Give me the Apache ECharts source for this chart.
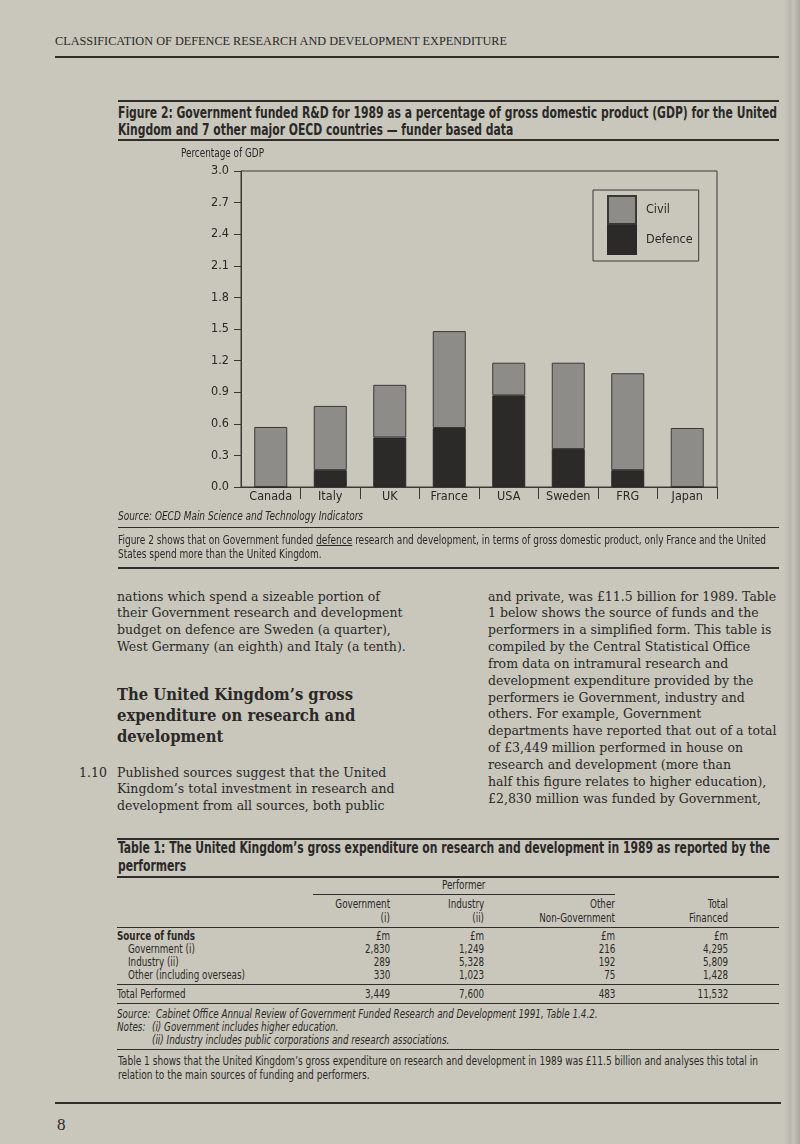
<!DOCTYPE html>
<html><head><meta charset="utf-8">
<script src="https://cdn.jsdelivr.net/npm/echarts@6/dist/echarts.min.js"></script>
<style>
html,body{margin:0;padding:0;}
body{width:800px;height:1144px;position:relative;overflow:hidden;background:#c9c7bc;color:#2a2927;}
.t{position:absolute;white-space:nowrap;transform-origin:0 50%;}
.serif{font-family:"Liberation Serif","DejaVu Serif",serif;}
.dserif{font-family:"DejaVu Serif","Liberation Serif",serif;}
.nar{font-family:"Liberation Sans Narrow","DejaVu Sans Condensed","Liberation Sans",sans-serif;}
.rule{position:absolute;background:#2f2e2b;}
#chart{position:absolute;left:0;top:145px;width:800px;height:375px;}
#edge{position:absolute;left:784px;top:0;width:16px;height:1144px;background:linear-gradient(to right,#c9c7bc 0%,#b9b7ad 40%,#c4c2b8 60%,#a8a69d 100%);}
</style></head><body>
<div id="edge"></div>
<div id="chart"></div>
<script>
// ---------- chart data ----------
const categories = ['Canada', 'Italy', 'UK', 'France', 'USA', 'Sweden', 'FRG', 'Japan'];
const defence = [0, 0.16, 0.47, 0.56, 0.87, 0.36, 0.16, 0];
const civil = [0.57, 0.61, 0.50, 0.92, 0.31, 0.82, 0.92, 0.56];
const yMin = 0, yMax = 3, yStep = 0.3;

// ---------- table data ----------
const tableCols = [['Government', '(i)'], ['Industry', '(ii)'], ['Other', 'Non-Government'], ['Total', 'Financed']];
const tableRows = ['Government (i)', 'Industry (ii)', 'Other (including overseas)'];
const tableVals = [['2,830', '1,249', '216', '4,295'], ['289', '5,328', '192', '5,809'], ['330', '1,023', '75', '1,428']];
const tableTotal = ['3,449', '7,600', '483', '11,532'];

// ---------- pick narrowest available condensed family ----------
function pickNarrow() {
  const c = document.createElement('canvas').getContext('2d');
  const cands = ['Liberation Sans Narrow', 'Arial Narrow', 'DejaVu Sans Condensed', 'Liberation Sans'];
  const probe = 'Canada Sweden 0.123';
  c.font = '40px monospace'; const mono = c.measureText(probe).width;
  let best = 'Liberation Sans', bw = 1e9;
  cands.forEach(f => {
    c.font = '40px "' + f + '", monospace';
    const ww = c.measureText(probe).width;
    if (Math.abs(ww - mono) > 0.5 && ww < bw) { bw = ww; best = f; }
  });
  return best;
}
const NARROW = pickNarrow();
const nar = '"' + NARROW + '","DejaVu Sans Condensed","Liberation Sans",sans-serif';
document.styleSheets[0].insertRule('.nar{font-family:' + nar + ';}', document.styleSheets[0].cssRules.length);

// ---------- helpers ----------
function mk(text, x, y, o) {
  o = o || {};
  const d = document.createElement('div');
  d.className = 't ' + (o.cls || 'nar');
  if (o.html) d.innerHTML = text; else d.textContent = text;
  const h = o.h || 16;
  d.style.fontSize = (o.size || 12) + 'px';
  d.style.lineHeight = h + 'px';
  d.style.height = h + 'px';
  d.style.top = (y - h / 2) + 'px';
  if (o.bold) d.style.fontWeight = 'bold';
  if (o.italic) d.style.fontStyle = 'italic';
  if (o.align === 'right') { d.style.right = (800 - x) + 'px'; d.style.transformOrigin = '100% 50%'; }
  else d.style.left = x + 'px';
  document.body.appendChild(d);
  d._cx = x; d._align = o.align;
  return d;
}
function rule(x1, x2, y, h) {
  const r = document.createElement('div');
  r.className = 'rule';
  r.style.left = x1 + 'px'; r.style.width = (x2 - x1) + 'px';
  r.style.top = (y - h / 2) + 'px'; r.style.height = h + 'px';
  document.body.appendChild(r);
}
function w(el) { return el.getBoundingClientRect().width; }
function scaleAll(els, s) {
  els.forEach(e => {
    if (e._align === 'center') {
      const ww = w(e);
      e.style.left = (e._cx - ww * s / 2) + 'px';
    }
    e.style.transform = 'scaleX(' + s + ')';
  });
}
function fitGroup(els, ref, target) { const s = target / w(ref); scaleAll(els, s); return s; }

// ---------- page text ----------
const hdr = mk('CLASSIFICATION OF DEFENCE RESEARCH AND DEVELOPMENT EXPENDITURE', 55, 41, {cls: 'serif', size: 12.5});
fitGroup([hdr], hdr, 452);
rule(55, 779, 57, 2);

rule(118, 779, 101, 1.5);
const ft1 = mk('Figure 2: Government funded R&amp;D for 1989 as a percentage of gross domestic product (GDP) for the United', 118, 113, {size: 15.5, bold: true, html: true});
const ft2 = mk('Kingdom and 7 other major OECD countries — funder based data', 118, 130, {size: 15.5, bold: true});
fitGroup([ft1, ft2], ft1, 659);
rule(118, 779, 140, 1.5);

const pg = mk('Percentage of GDP', 181, 153, {size: 12.5});
fitGroup([pg], pg, 83);

const src = mk('Source: OECD Main Science and Technology Indicators', 118, 516, {size: 13, italic: true});
fitGroup([src], src, 245);
rule(118, 779, 527, 1);
const p1 = mk('Figure 2 shows that on Government funded <span style="text-decoration:underline">defence</span> research and development, in terms of gross domestic product, only France and the United', 118, 540, {size: 13, html: true});
const p2 = mk('States spend more than the United Kingdom.', 118, 554, {size: 13});
fitGroup([p1, p2], p1, 648);
rule(118, 779, 568, 2);

// body columns
const bodyEls = [];
const leftA = ['nations which spend a sizeable portion of', 'their Government research and development', 'budget on defence are Sweden (a quarter),', 'West Germany (an eighth) and Italy (a tenth).'];
const lh = 16.85;
leftA.forEach((s, i) => bodyEls.push(mk(s, 117, 596 + i * lh, {cls: 'dserif', size: 12.5, h: 17})));
const leftB = ['Published sources suggest that the United', 'Kingdom’s total investment in research and', 'development from all sources, both public'];
leftB.forEach((s, i) => bodyEls.push(mk(s, 117, 772 + i * lh, {cls: 'dserif', size: 12.5, h: 17})));
bodyEls.push(mk('1.10', 79, 772, {cls: 'dserif', size: 12.5, h: 17}));
const rightA = ['and private, was £11.5 billion for 1989. Table', '1 below shows the source of funds and the', 'performers in a simplified form. This table is', 'compiled by the Central Statistical Office', 'from data on intramural research and', 'development expenditure provided by the', 'performers ie Government, industry and', 'others. For example, Government', 'departments have reported that out of a total', 'of £3,449 million performed in house on', 'research and development (more than', 'half this figure relates to higher education),', '£2,830 million was funded by Government,'];
rightA.forEach((s, i) => bodyEls.push(mk(s, 488, 596 + i * lh, {cls: 'dserif', size: 12.5, h: 17})));
fitGroup(bodyEls, bodyEls[0], 263);

const headEls = ['The United Kingdom’s gross', 'expenditure on research and', 'development'].map((s, i) => mk(s, 117, 695 + i * 21, {cls: 'dserif', size: 16, bold: true, h: 22}));
fitGroup(headEls, headEls[0], 236);

// table
rule(117, 779, 839, 1.5);
const tt1 = mk('Table 1: The United Kingdom’s gross expenditure on research and development in 1989 as reported by the', 118, 848, {size: 15.5, bold: true});
const tt2 = mk('performers', 118, 866, {size: 15.5, bold: true});
fitGroup([tt1, tt2], tt1, 652);
rule(117, 779, 877, 1.5);

const TS = 12.5;
const tabEls = [];
const colRight = [390, 484, 615, 728];
const perf = mk('Performer', 464, 885, {size: TS}); perf._align = 'center'; tabEls.push(perf);
rule(313, 615, 894, 1);
tableCols.forEach((c, j) => {
  tabEls.push(mk(c[0], colRight[j], 904, {size: TS, align: 'right'}));
  tabEls.push(mk(c[1], colRight[j], 918, {size: TS, align: 'right'}));
});
rule(117, 779, 927, 1);
tabEls.push(mk('Source of funds', 117, 936, {size: TS, bold: true}));
colRight.forEach(x => tabEls.push(mk('£m', x, 936, {size: TS, align: 'right'})));
const rowY = [949, 962, 975];
const refRow = [];
tableRows.forEach((r, i) => {
  const e = mk(r, 128, rowY[i], {size: TS}); tabEls.push(e); refRow.push(e);
  tableVals[i].forEach((v, j) => tabEls.push(mk(v, colRight[j], rowY[i], {size: TS, align: 'right'})));
});
rule(117, 779, 984, 1);
tabEls.push(mk('Total Performed', 117, 994, {size: TS}));
tableTotal.forEach((v, j) => tabEls.push(mk(v, colRight[j], 994, {size: TS, align: 'right'})));
rule(117, 779, 1003, 1);
tabEls.push(mk('Source:\u00a0\u00a0Cabinet Office Annual Review of Government Funded Research and Development 1991, Table 1.4.2.', 117, 1014, {size: TS, italic: true}));
tabEls.push(mk('Notes:', 117, 1027, {size: TS, italic: true}));
tabEls.push(mk('(i)  Government includes higher education.', 152, 1027, {size: TS, italic: true}));
tabEls.push(mk('(ii)  Industry includes public corporations and research associations.', 152, 1040, {size: TS, italic: true}));
fitGroup(tabEls, refRow[2], 117);
rule(117, 779, 1049, 1);
const b1 = mk('Table 1 shows that the United Kingdom’s gross expenditure on research and development in 1989 was £11.5 billion and analyses this total in', 118, 1061, {size: 13});
const b2 = mk('relation to the main sources of funding and performers.', 118, 1075, {size: 13});
fitGroup([b1, b2], b1, 640);
rule(55, 781, 1103, 2);
mk('8', 57, 1125, {cls: 'serif', size: 17, h: 20});

// ---------- chart ----------
const chart = echarts.init(document.getElementById('chart'), null, {renderer: 'canvas'});
const ink = '#2a2927';
const frame = '#3a3936';
chart.setOption({
  animation: false,
  backgroundColor: 'transparent',
  textStyle: {fontFamily: nar, color: ink},
  grid: {left: 241, right: 83, top: 26, bottom: 33, show: true, borderColor: frame, borderWidth: 1, backgroundColor: 'transparent'},
  legend: {
    data: ['Civil', 'Defence'], orient: 'vertical', left: 593, top: 45,
    itemWidth: 28, itemHeight: 28, itemGap: 0, icon: 'rect',
    padding: [5, 6, 6, 14], borderColor: frame, borderWidth: 1,
    textStyle: {fontFamily: nar, fontSize: 12.5, color: ink, padding: [0, 0, 0, 5]}
  },
  xAxis: {
    type: 'category', data: categories,
    axisLine: {show: true, lineStyle: {color: frame, width: 1}},
    axisTick: {show: true, length: 12, interval: function (i) { return i > 0; }, lineStyle: {color: frame}},
    axisLabel: {interval: 0, margin: 3, fontSize: 12.5, color: ink, fontFamily: nar}
  },
  yAxis: {
    type: 'value', min: yMin, max: yMax, interval: yStep,
    axisLine: {show: true, lineStyle: {color: frame, width: 1}},
    axisTick: {show: true, length: 7, lineStyle: {color: frame}},
    splitLine: {show: false},
    axisLabel: {margin: 12, fontSize: 12.5, color: ink, fontFamily: nar, formatter: v => v.toFixed(1)}
  },
  series: [
    {name: 'Defence', type: 'bar', stack: 'r', data: defence, barWidth: 33,
     itemStyle: {color: '#2b2a28', borderColor: '#2a2927', borderWidth: 1}},
    {name: 'Civil', type: 'bar', stack: 'r', data: civil, barWidth: 33,
     itemStyle: {color: '#8d8c88', borderColor: frame, borderWidth: 1}}
  ]
});
</script>
</body></html>
